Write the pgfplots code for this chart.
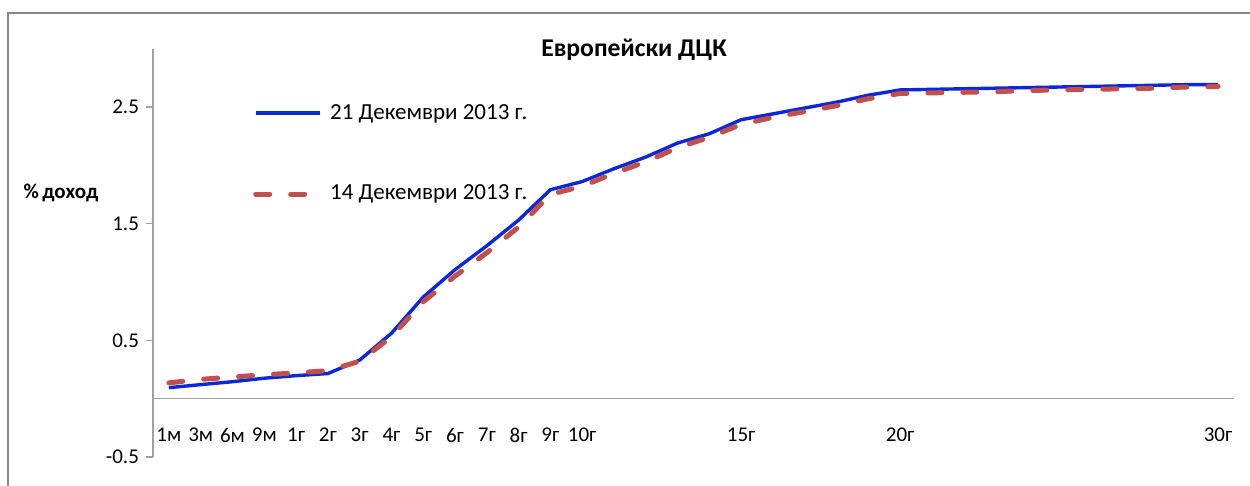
\documentclass[border=0pt]{standalone}
\usepackage{pgfplots}
\pgfplotsset{compat=1.18}
\usepackage{fontspec}
\setmainfont{Carlito}

\definecolor{serblue}{RGB}{10,40,215}
\definecolor{serred}{RGB}{192,80,77}
\definecolor{axgray}{RGB}{160,160,160}
\definecolor{framegray}{RGB}{134,134,134}

% Yield curve data: x = position on the maturity axis (1m ... 30y)
\pgfplotstableread{
x   y
0   0.094
1   0.12
2   0.145
3   0.175
4   0.197
5   0.215
6   0.33
7   0.56
8   0.87
9   1.105
10  1.31
11  1.53
12  1.79
13  1.86
14  1.97
15  2.07
16  2.19
17  2.27
18  2.39
19  2.44
20  2.49
21  2.54
22  2.60
23  2.645
24  2.65
25  2.655
26  2.66
27  2.665
28  2.67
29  2.675
30  2.68
31  2.685
32  2.69
33  2.69
}\curveA

\pgfplotstableread{
x   y
0   0.135
1   0.165
2   0.185
3   0.205
4   0.22
5   0.24
6   0.32
7   0.53
8   0.83
9   1.05
10  1.25
11  1.47
12  1.75
13  1.82
14  1.93
15  2.03
16  2.15
17  2.24
18  2.35
19  2.41
20  2.46
21  2.51
22  2.57
23  2.615
24  2.62
25  2.625
26  2.63
27  2.64
28  2.645
29  2.65
30  2.655
31  2.66
32  2.67
33  2.675
}\curveB

\begin{document}
\begin{tikzpicture}
\useasboundingbox (0,0) rectangle (625pt,243pt);
% chart frame (left and top edges)
\draw[framegray, line width=1pt] (4pt,0) -- (4pt,236.5pt) -- (625pt,236.5pt);

\begin{axis}[
  at={(76.5pt,14.5pt)}, anchor=south west,
  scale only axis,
  width=540.5pt, height=204.25pt,
  xmin=-0.5, xmax=33.5,
  ymin=-0.5, ymax=3.0,
  axis y line*=left,
  axis x line*=bottom,
  x axis line style={draw=none},
  y axis line style={axgray, line width=0.75pt},
  xtick={0,1,2,3,4,5,6,7,8,9,10,11,12,13,18,23,33},
  xticklabels={1м,3м,6м,9м,1г,2г,3г,4г,5г,6г,7г,8г,9г,10г,15г,20г,30г},
  xtick style={draw=none},
  xticklabel style={anchor=center, yshift=14.5pt, font=\fontsize{10.5}{12}\selectfont},
  ytick={-0.5,0.5,1.5,2.5},
  yticklabels={-0.5,0.5,1.5,2.5},
  ytick style={axgray, line width=0.75pt},
  tick align=outside,
  major tick length=3.5pt,
  yticklabel style={font=\fontsize{10.5}{12}\selectfont},
  clip=false,
  legend style={at={(axis cs:2.45,2.10)}, anchor=west, draw=none, fill=none,
    font=\fontsize{11.5}{13}\selectfont, row sep=29.5pt,
    nodes={inner sep=1pt},
    /tikz/every odd column/.append style={column sep=3pt}},
  legend cell align=left,
  legend image code/.code={\draw[#1] (0pt,0pt) -- (32pt,0pt);},
]
\draw[axgray, line width=0.75pt] (axis cs:-0.5,0) -- (axis cs:33.5,0);
\addplot[serblue, line width=1.7pt, line join=round] table[x=x,y=y] {\curveA};
\addlegendentry{21 Декември 2013 г.}
\addplot[serred, line width=2.5pt, line cap=round, line join=round,
  dash pattern=on 7pt off 10.5pt] table[x=x,y=y] {\curveB};
\addlegendentry{14 Декември 2013 г.}
\end{axis}

\node[font=\bfseries\fontsize{12.8}{15}\selectfont] at (317pt,218pt) {Европейски ДЦК};
\node[font=\bfseries\fontsize{10.5}{12}\selectfont] at (30.5pt,146.5pt) {\%\,доход};
\end{tikzpicture}
\end{document}
